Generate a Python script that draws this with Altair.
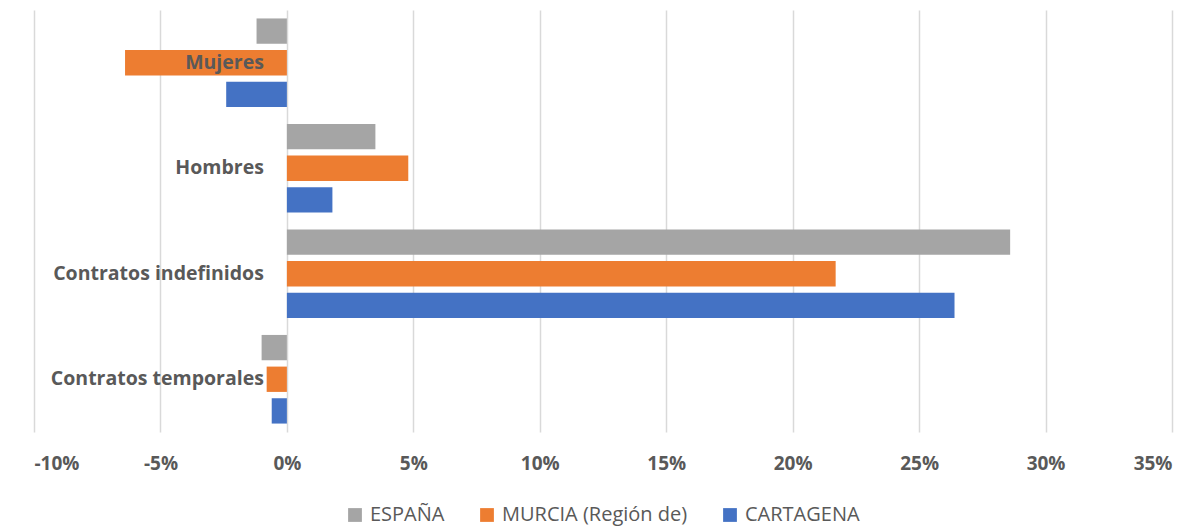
import altair as alt
import pandas as pd

categories = ["Mujeres", "Hombres", "Contratos indefinidos", "Contratos temporales"]
series = ["ESPAÑA", "MURCIA (Región de)", "CARTAGENA"]
espana = [-0.012, 0.035, 0.286, -0.010]
murcia = [-0.064, 0.048, 0.217, -0.008]
cartagena = [-0.024, 0.018, 0.264, -0.006]
colors = ["#A5A5A5", "#ED7D31", "#4472C4"]
ticks = [-0.10, -0.05, 0.0, 0.05, 0.10, 0.15, 0.20, 0.25, 0.30, 0.35]

rows = []
for s, vals in zip(series, [espana, murcia, cartagena]):
    for c, v in zip(categories, vals):
        rows.append({"cat": c, "serie": s, "value": v})
df = pd.DataFrame(rows)
lab = pd.DataFrame({"cat": categories, "zero": [0.0] * len(categories)})

font = "Open Sans"
txt = "#595959"

yscale = alt.Scale(domain=categories, paddingInner=0.16, paddingOuter=0.08)
xscale = alt.Scale(domain=[-0.10, 0.35], nice=False, zero=False)

bars = alt.Chart(df).mark_bar().encode(
    x=alt.X("value:Q", scale=xscale,
            axis=alt.Axis(values=ticks, labelExpr="round(datum.value*100) + '%'",
                          title=None, domain=False, ticks=False,
                          grid=True, gridColor="#D9D9D9", gridWidth=1.5,
                          labelFont=font, labelFontSize=19, labelFontWeight="bold",
                          labelColor=txt, labelPadding=22)),
    y=alt.Y("cat:N", scale=yscale, axis=None, sort=categories),
    yOffset=alt.YOffset("serie:N", sort=series, scale=alt.Scale(paddingInner=0.2)),
    color=alt.Color("serie:N", sort=series,
                    scale=alt.Scale(domain=series, range=colors),
                    legend=alt.Legend(title=None, orient="none", direction="horizontal",
                                      legendX=311, legendY=495,
                                      symbolType="square", symbolSize=190, symbolStrokeWidth=0,
                                      labelFont=font, labelFontSize=20, labelColor=txt,
                                      labelLimit=0, labelOffset=5, columnPadding=32)),
)

labels = alt.Chart(lab).mark_text(align="right", baseline="middle", dx=-23,
                                  font=font, fontSize=19.5, fontWeight="bold", color=txt).encode(
    x=alt.X("zero:Q", scale=xscale),
    y=alt.Y("cat:N", scale=yscale, sort=categories, axis=None),
    text="cat:N",
)

chart = alt.layer(bars, labels).properties(
    width=1138, height=422,
    autosize=alt.AutoSizeParams(type="none"),
    padding={"left": 26, "top": 2, "right": 16, "bottom": 95},
).configure_view(stroke=None)

chart.save("out.html", embed_options={"renderer": "svg", "actions": False})
